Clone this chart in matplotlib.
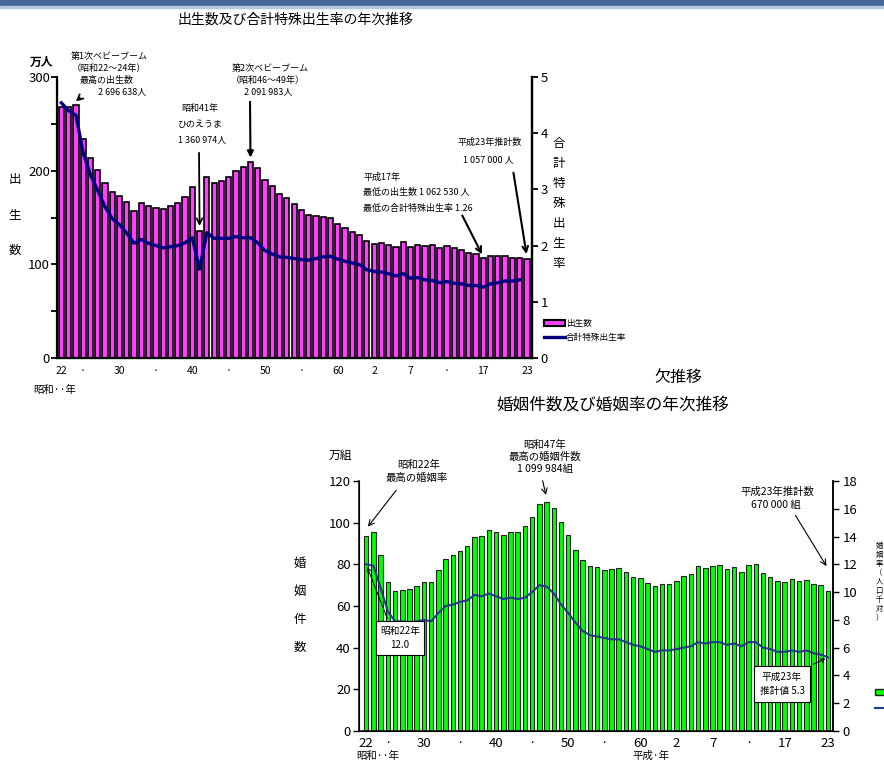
import matplotlib
matplotlib.use('Agg')
import matplotlib.pyplot as plt
from matplotlib.patches import Rectangle, Patch
from matplotlib.lines import Line2D

plt.rcParams['font.family'] = ['Noto Sans CJK JP', 'DejaVu Sans']

W, H = 884, 762

# ---------------- data ----------------
years = list(range(1947, 2012))
births = [267.9, 268.2, 269.7, 233.8, 213.8, 200.5, 186.8, 177.0, 173.1, 166.5,
          156.7, 165.3, 162.6, 160.6, 158.9, 161.9, 166.0, 171.7, 182.4, 136.1,
          193.6, 187.2, 188.9, 193.4, 200.1, 203.9, 209.2, 203.0, 190.1, 183.3,
          175.5, 170.9, 164.3, 157.7, 152.9, 151.5, 150.9, 149.0, 143.2, 138.3,
          134.7, 131.4, 124.7, 122.2, 122.3, 120.9, 118.8, 123.8, 118.7, 120.7,
          119.2, 120.3, 117.8, 119.1, 117.1, 115.4, 112.4, 111.1, 106.3, 109.3,
          109.0, 109.1, 107.0, 107.1, 105.7]
tfr_years = list(range(1947, 2011))
tfr = [4.54, 4.40, 4.32, 3.65, 3.26, 2.98, 2.69, 2.48, 2.37, 2.22,
       2.04, 2.11, 2.04, 2.00, 1.96, 1.98, 2.00, 2.05, 2.14, 1.58,
       2.23, 2.13, 2.13, 2.13, 2.16, 2.14, 2.14, 2.05, 1.91, 1.85,
       1.80, 1.79, 1.77, 1.75, 1.74, 1.77, 1.80, 1.81, 1.76, 1.72,
       1.69, 1.66, 1.57, 1.54, 1.53, 1.50, 1.46, 1.50, 1.42, 1.43,
       1.39, 1.38, 1.34, 1.36, 1.33, 1.32, 1.29, 1.29, 1.26, 1.32,
       1.34, 1.37, 1.37, 1.39]
marriages = [93.4, 95.4, 84.3, 71.5, 67.2, 67.6, 68.2, 69.7, 71.5, 71.5,
             77.3, 82.6, 84.7, 86.6, 89.0, 92.9, 93.8, 96.3, 95.5, 94.0,
             95.3, 95.6, 98.5, 102.9, 109.2, 110.0, 107.2, 100.1, 94.2, 87.1,
             82.1, 79.3, 78.9, 77.5, 77.7, 78.1, 76.3, 73.9, 73.5, 71.0,
             69.6, 70.8, 70.8, 72.2, 74.2, 75.4, 79.3, 78.2, 79.2, 79.5,
             77.6, 78.5, 76.2, 79.8, 80.0, 75.7, 74.0, 72.0, 71.4, 73.1,
             72.0, 72.6, 70.8, 70.0, 67.0]
marriage_rate = [12.0, 11.9, 10.3, 8.6, 7.9, 7.9, 7.8, 7.9, 8.0, 7.9,
                 8.5, 9.0, 9.1, 9.3, 9.4, 9.8, 9.7, 9.9, 9.7, 9.5,
                 9.6, 9.5, 9.6, 10.0, 10.5, 10.4, 9.9, 9.1, 8.5, 7.8,
                 7.2, 6.9, 6.8, 6.7, 6.6, 6.6, 6.4, 6.2, 6.1, 5.9,
                 5.7, 5.8, 5.8, 5.9, 6.0, 6.1, 6.4, 6.3, 6.4, 6.4,
                 6.2, 6.3, 6.1, 6.4, 6.4, 6.0, 5.9, 5.7, 5.7, 5.8,
                 5.7, 5.8, 5.6, 5.5, 5.3]
tick_years = [1947, 1950, 1955, 1960, 1965, 1970, 1975, 1980, 1985, 1990,
              1995, 2000, 2005, 2011]
tick_labels = ['22', '·', '30', '·', '40', '·', '50', '·', '60', '2', '7',
               '·', '17', '23']

PINK = '#FF40FF'
NAVY = '#000080'
GREEN = '#00FF00'
NAVY2 = '#1F3C88'

fig = plt.figure(figsize=(W / 100, H / 100), dpi=100)


def ptext(x, y, s, **kw):
    kw.setdefault('ha', 'center')
    kw.setdefault('va', 'center')
    return fig.text(x / W, 1 - y / H, s, **kw)


def ax_rect(x0, y0, x1, y1):
    return [x0 / W, 1 - y1 / H, (x1 - x0) / W, (y1 - y0) / H]


# header bar
fig.patches.append(Rectangle((0, 1 - 6 / H), 1, 6 / H, transform=fig.transFigure,
                             color='#46679A', zorder=0))
fig.patches.append(Rectangle((0, 1 - 8 / H), 1, 2 / H, transform=fig.transFigure,
                             color='#B4C6E0', zorder=0))

# ================= top chart =================
ax1 = fig.add_axes(ax_rect(57, 77, 532, 358))
ax1.bar(years, births, width=0.72, color=PINK, edgecolor='black', linewidth=1.2, zorder=2)
ax1.set_xlim(1946.4, 2011.7)
ax1.set_ylim(0, 300)
ax1.set_yticks([0, 100, 200, 300])
ax1.set_yticks([50, 150, 250], minor=True)
ax1.set_xticks(tick_years)
ax1.set_xticklabels(tick_labels, fontsize=7.5)
ax1.tick_params(axis='x', length=0, pad=6)
ax1.tick_params(axis='y', which='both', direction='out', length=4, width=1.3, labelsize=9.5, pad=1)
ax1.spines['top'].set_visible(False)
for s in ['left', 'bottom', 'right']:
    ax1.spines[s].set_linewidth(1.6)

ax1r = ax1.twinx()
ax1r.plot(tfr_years, tfr, color=NAVY, lw=2.4, zorder=3)
ax1r.set_ylim(0, 5)
ax1r.set_yticks([0, 1, 2, 3, 4, 5])
ax1r.tick_params(axis='y', direction='out', length=4, width=1.3, labelsize=9.5, pad=2)
ax1r.spines['top'].set_visible(False)
ax1r.spines['right'].set_linewidth(1.6)

ptext(295, 20, '出生数及び合計特殊出生率の年次推移', fontsize=10)
ptext(42, 62, '万人', fontsize=8.5, fontweight='bold')
for ch, y in zip('出生数', [180, 215, 250]):
    ptext(15, y, ch, fontsize=9)
for ch, y in zip('合計特殊出生率', [143, 163, 183, 203, 223, 243, 263]):
    ptext(559, y, ch, fontsize=9)
ptext(55, 390, '昭和··年', fontsize=7.5)

fs = 6.5
ptext(109, 57, '第1次ベビーブーム', fontsize=fs)
ptext(109, 69, '（昭和22～24年）', fontsize=fs)
ptext(107, 80, '最高の出生数', fontsize=fs)
ptext(122, 92, '2 696 638人', fontsize=fs)
ax1.annotate('', xy=(1948.7, 272), xytext=(82, H - 96), textcoords='figure pixels',
             arrowprops=dict(arrowstyle='->', lw=1.3, color='black'))

ptext(270, 68, '第2次ベビーブーム', fontsize=fs)
ptext(268, 80, '（昭和46～49年）', fontsize=fs)
ptext(268, 92, '2 091 983人', fontsize=fs)
ax1.annotate('', xy=(1973, 211), xytext=(250, H - 99), textcoords='figure pixels',
             arrowprops=dict(arrowstyle='-|>', lw=1.5, color='black', mutation_scale=9))

ptext(200, 108, '昭和41年', fontsize=fs)
ptext(200, 124, 'ひのえうま', fontsize=fs)
ptext(202, 140, '1 360 974人', fontsize=fs)
ax1.annotate('', xy=(1966, 138), xytext=(199, H - 150), textcoords='figure pixels',
             arrowprops=dict(arrowstyle='->', lw=1.3, color='black'))

ptext(490, 142, '平成23年推計数', fontsize=fs)
ptext(488, 160, '1 057 000 人', fontsize=fs)
ax1.annotate('', xy=(2011, 108), xytext=(513, H - 170), textcoords='figure pixels',
             arrowprops=dict(arrowstyle='->', lw=1.5, color='black'))

ptext(363, 177, '平成17年', fontsize=fs, ha='left')
ptext(363, 193, '最低の出生数 1 062 530 人', fontsize=fs, ha='left')
ptext(363, 208, '最低の合計特殊出生率 1.26', fontsize=fs, ha='left')
ax1.annotate('', xy=(2005, 108), xytext=(461, H - 213), textcoords='figure pixels',
             arrowprops=dict(arrowstyle='->', lw=1.5, color='black'))

h1 = [Patch(facecolor=PINK, edgecolor='black', linewidth=1.5),
      Line2D([], [], color=NAVY, lw=2.4)]
ax1r.legend(h1, ['出生数', '合計特殊出生率'], loc='upper left',
            bbox_to_anchor=(544 / W, 1 - 319 / H), bbox_transform=fig.transFigure,
            frameon=False, fontsize=6.2, handlelength=2.4, handleheight=0.6,
            handletextpad=0.1, labelspacing=0.6, borderaxespad=0, borderpad=0)

# ================= bottom chart =================
ptext(678, 377, '欠推移', fontsize=11.5)
ptext(613, 405, '婚姻件数及び婚姻率の年次推移', fontsize=12)

ax2 = fig.add_axes(ax_rect(359, 481, 833, 731))
ax2.bar(years, marriages, width=0.62, color=GREEN, edgecolor='#222222', linewidth=0.8, zorder=2)
ax2.set_xlim(1946.0, 2011.7)
ax2.set_ylim(0, 120)
ax2.set_yticks(range(0, 121, 20))
ax2.set_xticks(tick_years)
ax2.set_xticklabels(tick_labels, fontsize=9.5)
ax2.tick_params(axis='x', length=0, pad=4)
ax2.tick_params(axis='y', direction='out', length=4, width=1.0, labelsize=9.5, pad=2)
ax2.spines['top'].set_visible(False)
for s in ['left', 'bottom', 'right']:
    ax2.spines[s].set_linewidth(1.1)

ax2r = ax2.twinx()
ax2r.plot(years, marriage_rate, color=NAVY2, lw=1.5, zorder=3)
ax2r.set_ylim(0, 18)
ax2r.set_yticks(range(0, 19, 2))
ax2r.tick_params(axis='y', direction='out', length=4, width=1.0, labelsize=9.5, pad=3)
ax2r.spines['top'].set_visible(False)
ax2r.spines['right'].set_linewidth(1.1)

ptext(340, 455, '万組', fontsize=8.5)
for ch, y in zip('婚姻件数', [563, 591, 619, 647]):
    ptext(300, y, ch, fontsize=9)
ptext(378, 756, '昭和··年', fontsize=7.5)
ptext(651, 756, '平成·年', fontsize=7.5)
for ch, y in zip('婚姻率（人口千対）', [546, 555, 564, 573, 582, 591, 600, 609, 618]):
    ptext(879, y, ch, fontsize=5.3)

fs2 = 7.5
ptext(419, 465, '昭和22年', fontsize=fs2)
ptext(417, 478, '最高の婚姻率', fontsize=fs2)
ax2.annotate('', xy=(1947, 97), xytext=(398, H - 488), textcoords='figure pixels',
             arrowprops=dict(arrowstyle='->', lw=0.8, color='black'))

ptext(545, 445, '昭和47年', fontsize=fs2)
ptext(545, 457, '最高の婚姻件数', fontsize=fs2)
ptext(545, 469, '1 099 984組', fontsize=fs2)
ax2.annotate('', xy=(1972, 112), xytext=(542, H - 478), textcoords='figure pixels',
             arrowprops=dict(arrowstyle='->', lw=0.8, color='black'))

ptext(777, 492, '平成23年推計数', fontsize=fs2)
ptext(776, 505, '670 000 組', fontsize=fs2)
ax2.annotate('', xy=(2011, 78), xytext=(794, H - 513), textcoords='figure pixels',
             arrowprops=dict(arrowstyle='->', lw=0.8, color='black'))

ax2r.annotate('昭和22年\n12.0', xy=(1947, 12), xytext=(400, H - 638),
              textcoords='figure pixels', ha='center', va='center', fontsize=7,
              linespacing=1.6,
              bbox=dict(boxstyle='square,pad=0.45', fc='white', ec='black', lw=0.8),
              arrowprops=dict(arrowstyle='->', lw=0.7, color='black',
                              relpos=(0.25, 1.0)), zorder=5)
ax2r.annotate('平成23年\n推計値 5.3', xy=(2011, 5.3), xytext=(782, H - 684),
              textcoords='figure pixels', ha='center', va='center', fontsize=7,
              linespacing=1.6,
              bbox=dict(boxstyle='square,pad=0.6', fc='white', ec='black', lw=0.8),
              arrowprops=dict(arrowstyle='->', lw=0.7, color='black',
                              relpos=(0.85, 1.0)), zorder=5)

# legend handles only (their labels lie beyond the right edge in the reference)
h2 = [Patch(facecolor=GREEN, edgecolor='#222222', linewidth=1.0),
      Line2D([], [], color=NAVY2, lw=1.5)]
ax2r.legend(h2, ['', ''], loc='upper left',
            bbox_to_anchor=(875 / W, 1 - 688 / H), bbox_transform=fig.transFigure,
            frameon=False, fontsize=6.5, handlelength=2.4, handleheight=0.6,
            handletextpad=0.0, labelspacing=0.8, borderaxespad=0, borderpad=0)

fig.savefig('out.png', dpi=100)
